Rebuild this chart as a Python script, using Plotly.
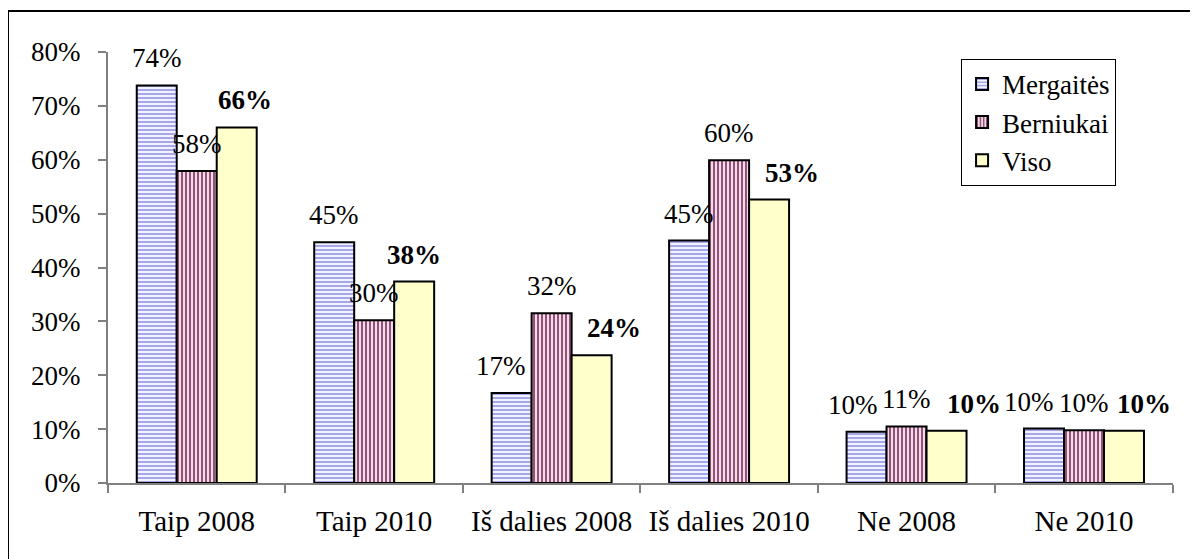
import plotly.graph_objects as go

categorias = ["Taip 2008", "Taip 2010", "Iš dalies 2008", "Iš dalies 2010", "Ne 2008", "Ne 2010"]

mergaites = [73.8, 44.7, 16.7, 45.0, 9.5, 10.1]
berniukai = [57.9, 30.2, 31.5, 59.9, 10.5, 9.8]
viso = [66.0, 37.4, 23.7, 52.6, 9.7, 9.7]

lbl_mergaites = ["74%", "45%", "17%", "45%", "10%", "10%"]
lbl_berniukai = ["58%", "30%", "32%", "60%", "11%", "10%"]
lbl_viso = ["66%", "38%", "24%", "53%", "10%", "10%"]

FONTE = "Liberation Serif"
TAM = 27
BARGAP = 0.324

# deslocamentos manuais das etiquetas (px), como no original do Excel
AJUSTE_X = {
    (0, "Iš dalies 2008"): -11, (0, "Ne 2008"): -14, (0, "Ne 2010"): -15,
    (2, "Taip 2008"): 8, (2, "Iš dalies 2008"): 22, (2, "Iš dalies 2010"): 23,
    (2, "Ne 2008"): 27, (2, "Ne 2010"): 20,
}

fig = go.Figure()

fig.add_trace(go.Bar(
    name="Mergaitės", x=categorias, y=mergaites,
    marker=dict(
        color="white",
        line=dict(color="black", width=2),
        pattern=dict(shape="-", size=4, solidity=0.45, fgcolor="#9D9DE8", bgcolor="#F2F2FF", fillmode="replace"),
    ),
))
fig.add_trace(go.Bar(
    name="Berniukai", x=categorias, y=berniukai,
    marker=dict(
        color="white",
        line=dict(color="black", width=2),
        pattern=dict(shape="|", size=4, solidity=0.5, fgcolor="#96507A", bgcolor="#F0DDE8", fillmode="replace"),
    ),
))
fig.add_trace(go.Bar(
    name="Viso", x=categorias, y=viso,
    marker=dict(color="#FFFFCC", line=dict(color="black", width=2)),
))

# etiquetas acima das barras
largura_cat = (1173 - 108) / len(categorias)
largura_barra = largura_cat * (1 - BARGAP) / 3
anotacoes = []
for i, (valores, rotulos, negrito) in enumerate([
    (mergaites, lbl_mergaites, False),
    (berniukai, lbl_berniukai, False),
    (viso, lbl_viso, True),
]):
    for cat, v, r in zip(categorias, valores, rotulos):
        anotacoes.append(dict(
            x=cat, y=v, xref="x", yref="y",
            text=f"<b>{r}</b>" if negrito else r,
            showarrow=False, xanchor="center", yanchor="bottom",
            xshift=(i - 1) * largura_barra + AJUSTE_X.get((i, cat), 0), yshift=10,
            font=dict(family=FONTE, size=TAM, color="black"),
        ))

fig.update_layout(
    width=1198, height=559,
    margin=dict(l=100, r=33, t=44, b=84),
    paper_bgcolor="white", plot_bgcolor="white",
    barmode="group", bargap=BARGAP, bargroupgap=0,
    font=dict(family=FONTE, size=TAM, color="black"),
    annotations=anotacoes,
    showlegend=True,
    legend=dict(
        x=0.801, y=0.984, xanchor="left", yanchor="top",
        bgcolor="white", bordercolor="black", borderwidth=1,
        font=dict(family=FONTE, size=27, color="black"),
        tracegroupgap=0, itemwidth=30,
    ),
    shapes=[dict(
        type="rect", xref="paper", yref="paper",
        x0=-0.0939, x1=1.2, y0=-0.5, y1=1.095,
        line=dict(color="black", width=2), fillcolor="rgba(0,0,0,0)",
        layer="below",
    )],
)

fig.update_xaxes(
    showline=True, linecolor="#808080", linewidth=2,
    ticks="outside", tickson="boundaries", ticklen=8, tickcolor="#808080", tickwidth=2,
    showgrid=False, ticklabelstandoff=11, tickfont=dict(family=FONTE, size=29),
)
fig.update_yaxes(
    range=[0, 80], dtick=10, ticksuffix="%",
    showline=True, linecolor="#808080", linewidth=2,
    ticks="outside", ticklen=8, tickcolor="#808080", tickwidth=2,
    showgrid=False, zeroline=False, ticklabelstandoff=12,
    tickfont=dict(family=FONTE, size=TAM),
)

fig.write_html("out.html")
